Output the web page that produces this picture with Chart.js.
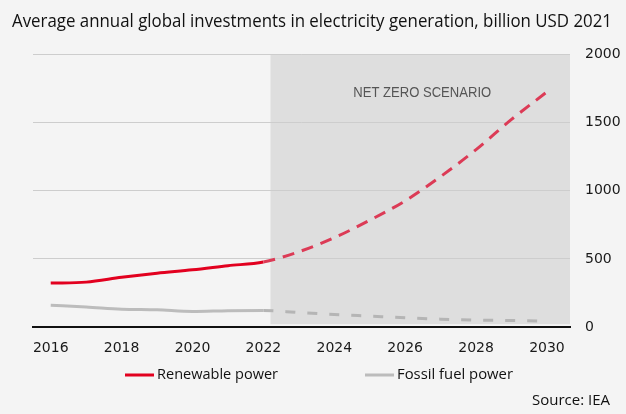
<!DOCTYPE html>
<html>
<head>
<meta charset="utf-8">
<script src="https://cdn.jsdelivr.net/npm/chart.js@4"></script>
<style>
  html, body { margin: 0; padding: 0; background: #f4f4f4; }
  #wrap { width: 626px; height: 414px; }
</style>
</head>
<body>
<div id="wrap"><canvas id="chart" width="626" height="414"></canvas></div>
<script>
const years = [2016, 2017, 2018, 2019, 2020, 2021, 2022, 2023, 2024, 2025, 2026, 2027, 2028, 2029, 2030];
const renewable = [323, 330, 365, 395, 420, 450, 478, 552, 655, 783, 925, 1103, 1300, 1521, 1723];
const fossil = [160, 148, 132, 127, 115, 121, 123, 107, 93, 81, 69, 59, 52, 49, 44];
const xTicks = [2016, 2018, 2020, 2022, 2024, 2026, 2028, 2030];
const yTicks = [0, 500, 1000, 1500, 2000];
const lastActualYear = 2022;
const scenarioStart = 2022.2;

const titleText = "Average annual global investments in electricity generation, billion USD 2021";
const scenarioText = "NET ZERO SCENARIO";
const sourceText = "Source: IEA";
const seriesNames = ["Renewable power", "Fossil fuel power"];

const RED = "#e2001f";
const RED_DASH = "#dc3b56";
const GREY = "#bcbcbc";
const GREY_DASH = "#b5b5b5";
const HUMANIST = "'Open Sans', 'Noto Sans', sans-serif";
const GROTESK = "'Liberation Sans', Arial, sans-serif";
const TICK_FONT = { family: "'DejaVu Sans', Verdana, sans-serif", size: 14 };

const points = (vals) => years.map((y, i) => ({ x: y, y: vals[i] }));
const projected = (ctx) => ctx.p0.parsed.x >= lastActualYear;

// condensed look: squeeze a regular face horizontally to the wanted width
function squeezeText(ctx, text, x, y, width, align) {
  const w = ctx.measureText(text).width;
  const k = Math.min(1, width / w);
  let left = x;
  if (align === "center") left = x - width / 2;
  if (align === "right") left = x - width;
  ctx.save();
  ctx.textAlign = "left";
  ctx.translate(left, y);
  ctx.scale(k, 1);
  ctx.fillText(text, 0, 0);
  ctx.restore();
}

// shaded projection band under the grid, texts and legend on top
const overlay = {
  id: "overlay",
  beforeDraw(chart) {
    const { ctx, chartArea, scales } = chart;
    const x0 = scales.x.getPixelForValue(scenarioStart);
    ctx.save();
    ctx.fillStyle = "#dedede";
    ctx.fillRect(x0, chartArea.top, chartArea.right - x0, chartArea.bottom - chartArea.top - 3);
    ctx.restore();
  },
  afterDraw(chart) {
    const { ctx, chartArea, scales } = chart;
    ctx.save();
    ctx.textBaseline = "middle";

    ctx.fillStyle = "#111";
    ctx.font = `18px ${HUMANIST}`;
    squeezeText(ctx, titleText, 12, 22, 600, "left");

    const cx = (scales.x.getPixelForValue(scenarioStart) + chartArea.right) / 2;
    ctx.font = `15px ${GROTESK}`;
    ctx.fillStyle = "#555";
    squeezeText(ctx, scenarioText, cx + 2, chartArea.top + 39, 138, "center");

    // legend
    const ly = 375;
    const items = [
      { x: 125, color: RED, text: seriesNames[0], w: 121 },
      { x: 365, color: GREY, text: seriesNames[1], w: 116 },
    ];
    ctx.font = `15px ${HUMANIST}`;
    items.forEach((it) => {
      ctx.strokeStyle = it.color;
      ctx.lineWidth = 3;
      ctx.beginPath();
      ctx.moveTo(it.x, ly);
      ctx.lineTo(it.x + 29, ly);
      ctx.stroke();
      ctx.fillStyle = "#111";
      squeezeText(ctx, it.text, it.x + 32, ly, it.w, "left");
    });

    squeezeText(ctx, sourceText, 612, 401, 80, "right");
    ctx.restore();
  },
};

new Chart(document.getElementById("chart"), {
  type: "line",
  data: {
    datasets: [
      {
        label: seriesNames[0],
        data: points(renewable),
        xAxisID: "x",
        yAxisID: "y",
        borderColor: RED,
        borderWidth: 3,
        pointRadius: 0,
        cubicInterpolationMode: "monotone",
        segment: {
          borderDash: (ctx) => (projected(ctx) ? [12, 8] : undefined),
          borderColor: (ctx) => (projected(ctx) ? RED_DASH : undefined),
        },
      },
      {
        label: seriesNames[1],
        data: points(fossil),
        xAxisID: "x",
        yAxisID: "y",
        borderColor: GREY,
        borderWidth: 3,
        pointRadius: 0,
        cubicInterpolationMode: "monotone",
        segment: {
          borderDash: (ctx) => (projected(ctx) ? [10, 12] : undefined),
          borderColor: (ctx) => (projected(ctx) ? GREY_DASH : undefined),
        },
      },
    ],
  },
  options: {
    responsive: false,
    animation: false,
    events: [],
    layout: { padding: { left: 12, right: 0, top: 54, bottom: 44 } },
    plugins: {
      legend: { display: false },
      tooltip: { enabled: false },
      title: { display: false },
    },
    scales: {
      x: {
        type: "linear",
        min: 2015.5,
        max: 2030.65,
        afterBuildTicks: (s) => { s.ticks = xTicks.map((v) => ({ value: v })); },
        grid: { display: false, drawTicks: false },
        border: { display: true, color: "#111", width: 2 },
        ticks: { color: "#1a1a1a", font: TICK_FONT, padding: 13, maxRotation: 0, callback: (v) => String(v) },
      },
      y: {
        position: "right",
        min: 0,
        max: 2000,
        afterBuildTicks: (s) => { s.ticks = yTicks.map((v) => ({ value: v })); },
        grid: { color: "#cdcdcd", lineWidth: 1, drawTicks: false },
        border: { display: false },
        ticks: { color: "#1a1a1a", font: TICK_FONT, padding: 15, callback: (v) => String(v) },
        afterFit: (s) => { s.width = 56; },
      },
      gutter: {
        type: "linear",
        position: "left",
        grid: { display: false },
        border: { display: false },
        ticks: { display: false },
        afterFit: (s) => { s.width = 21; },
      },
    },
  },
  plugins: [overlay],
});
</script>
</body>
</html>
